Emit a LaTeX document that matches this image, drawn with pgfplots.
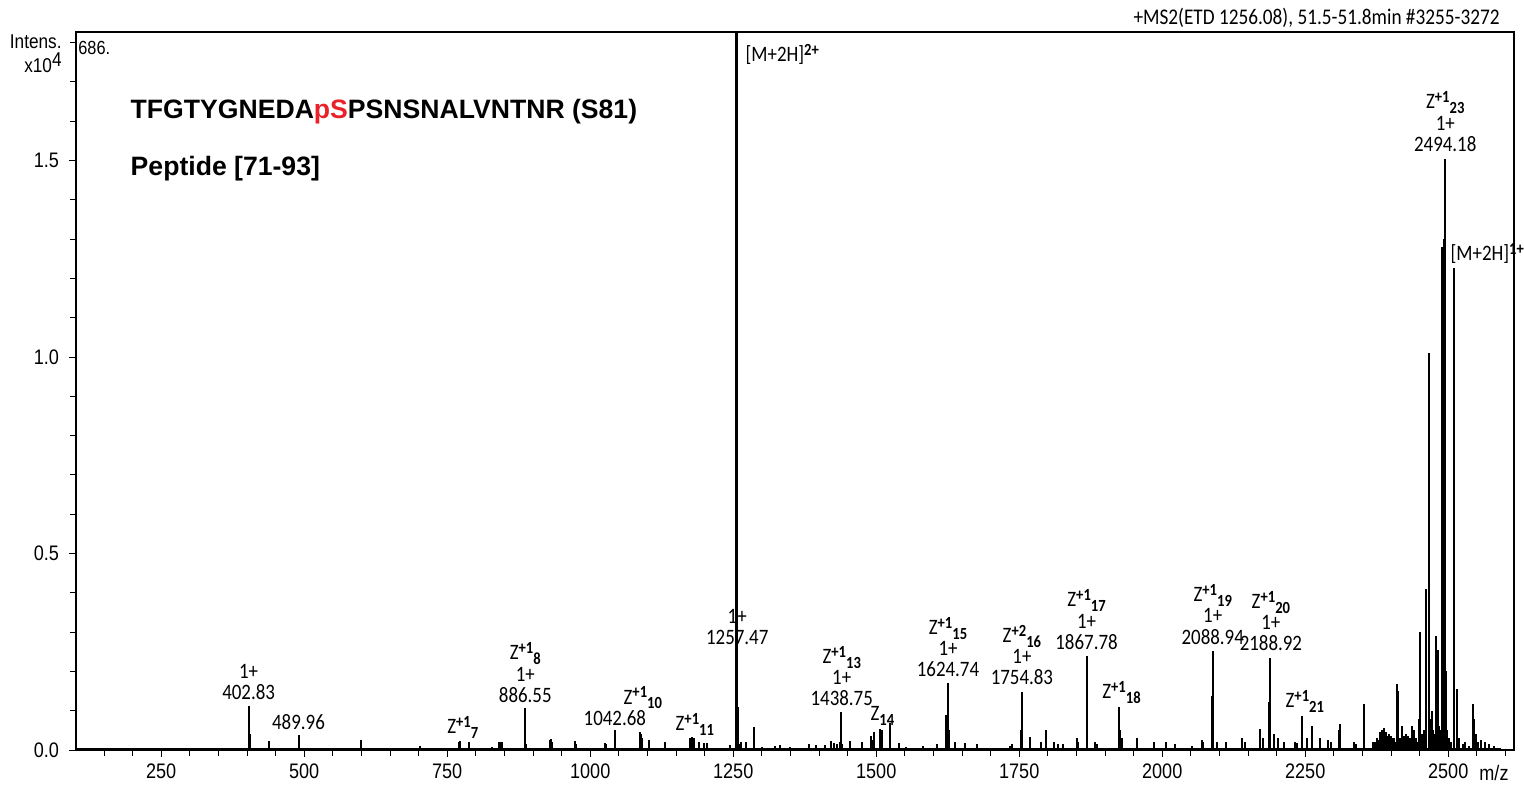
\documentclass[border=0pt]{standalone}
\usepackage{pgfplots}
\pgfplotsset{compat=1.18}
\usepackage{pgfplotstable}
\usepackage{fontspec}
\setmainfont{Liberation Sans}[FakeStretch=0.86]
\newfontfamily\calib{Carlito}[FakeStretch=0.86]
\newfontfamily\arialn{Liberation Sans}
\definecolor{pred}{RGB}{232,34,40}

% Z ion label: Z, charge as superscript, number as subscript
\newcommand{\zion}[2]{Z\raisebox{0.6ex}{\fontsize{8.5}{8}\selectfont\bfseries #1}\raisebox{-0.45ex}{\fontsize{8.5}{8}\selectfont\bfseries #2}}

\tikzset{
  lab/.style={font=\calib\fontsize{11}{10.6}\selectfont, inner sep=0pt, align=center, anchor=south},
  labw/.style={font=\calib\fontsize{11}{10.6}\selectfont, inner sep=0pt, anchor=base west},
}

% peak list: m/z, intensity (x10^4)
\pgfplotstableread{
mz int
402.8 0.113
404.5 0.04
406 0.015
437.6 0.022
490.5 0.039
599.6 0.026
701.6 0.01
771 0.02
773 0.022
788 0.021
828 0.008
841 0.02
844 0.021
846 0.02
886.5 0.108
888 0.015
929 0.025
931 0.027
933 0.02
973.8 0.024
975 0.015
1026 0.018
1028 0.015
1042.7 0.051
1087 0.045
1089 0.04
1091 0.03
1103 0.025
1130.6 0.02
1175 0.03
1178 0.032
1181 0.03
1191 0.02
1199 0.018
1205 0.018
1244.8 0.012
1254.2 0.25
1254.9 1.95
1255.5 2.0
1256.08 2.0
1256.7 1.95
1257.5 0.109
1260 0.015
1264 0.02
1273 0.02
1286.7 0.059
1300 0.008
1323.6 0.01
1332 0.012
1349.7 0.008
1381.6 0.015
1395 0.012
1410.8 0.012
1420.8 0.022
1426.6 0.018
1431 0.015
1436 0.02
1438.7 0.096
1441 0.015
1454 0.022
1474.9 0.02
1490.6 0.035
1494 0.025
1496.5 0.045
1507 0.054
1510.7 0.05
1523.5 0.068
1540 0.018
1552 0.008
1581 0.01
1607 0.015
1622 0.09
1624.7 0.17
1627 0.05
1638 0.02
1656 0.018
1676 0.015
1734 0.01
1737 0.015
1752.5 0.05
1754.8 0.147
1768 0.034
1788.5 0.02
1796 0.051
1810 0.02
1818.5 0.015
1827 0.015
1851 0.03
1853 0.02
1867.8 0.24
1869.2 0.157
1883 0.02
1886 0.015
1923.6 0.109
1926 0.05
1929 0.03
1955.7 0.03
1985 0.02
2007 0.02
2022.7 0.015
2052 0.01
2069 0.025
2072 0.02
2086.5 0.138
2088.9 0.252
2095.6 0.02
2112 0.02
2139 0.03
2145 0.02
2171 0.054
2177 0.03
2187 0.122
2188.9 0.235
2194.6 0.04
2203 0.03
2213 0.02
2232.5 0.02
2236 0.018
2245 0.086
2253 0.03
2262 0.06
2276.6 0.03
2290 0.025
2295 0.02
2309 0.05
2311 0.066
2334.5 0.02
2338 0.015
2352 0.075
2353.5 0.118
2368 0.02
2372 0.02
2375 0.03
2378 0.025
2380 0.045
2382 0.035
2384 0.05
2386 0.04
2388 0.055
2390 0.04
2392 0.045
2394 0.035
2396 0.04
2398 0.03
2400 0.035
2402 0.03
2404 0.025
2406 0.03
2408 0.02
2411 0.167
2412.5 0.15
2416 0.03
2419 0.06
2423 0.035
2426 0.04
2430 0.035
2434 0.03
2437 0.06
2440 0.05
2443 0.03
2446 0.02
2449.5 0.08
2451 0.30
2455 0.04
2458 0.05
2462 0.41
2465.5 1.01
2468 0.06
2470 0.08
2472 0.10
2474 0.05
2476 0.04
2478 0.29
2481.5 0.255
2484 0.06
2486 0.05
2489 1.28
2490.5 1.28
2492 1.2
2493 1.3
2494.2 1.505
2496 0.2
2498 0.05
2502 0.03
2505 0.02
2509.4 1.227
2515 0.155
2518 0.03
2525 0.015
2530 0.02
2537 0.01
2543.5 0.117
2545.5 0.08
2548 0.04
2552 0.02
2558 0.025
2565 0.02
2572 0.015
2580 0.01
}\spec

\begin{document}
\begin{tikzpicture}
\begin{axis}[
    scale only axis,
    width=719pt, height=359pt,
    xmin=101, xmax=2615,
    ymin=0, ymax=1.827,
    axis line style={line width=0.6pt},
    tick align=outside,
    tick style={black, line width=0.5pt},
    major tick length=3.5pt,
    minor tick length=3pt,
    xtick={250,500,...,2500},
    minor xtick={150,200,...,2600},
    ytick={0,0.5,1.0,1.5},
    minor ytick={0.1,0.2,0.3,0.4,0.6,0.7,0.8,0.9,1.1,1.2,1.3,1.4,1.6,1.7,1.8},
    xtick pos=bottom, ytick pos=left,
    yticklabel style={/pgf/number format/fixed, /pgf/number format/fixed zerofill, /pgf/number format/precision=1, xshift=-1.5pt},
    xticklabel style={/pgf/number format/set thousands separator={}},
    /pgf/number format/assume math mode=true,
    ticklabel style={font=\fontsize{10.5}{12}\selectfont},
    clip mode=individual,
]
\addplot[black, line width=1.2pt] coordinates {(101,0.002) (2592,0.002)};
\addplot[ycomb, black, line width=1pt, mark=none] table[x=mz, y=int] {\spec};

% axis decorations
\node[anchor=base east, inner sep=0pt, font=\fontsize{10}{12}\selectfont] at (axis description cs:0,1) [xshift=-7pt, yshift=-8pt] {Intens.};
\node[anchor=base east, inner sep=0pt, font=\fontsize{10}{12}\selectfont] at (axis description cs:0,1) [xshift=-7pt, yshift=-20pt] {x10\raisebox{0.5ex}{4}};
\node[anchor=north west, inner sep=0pt, font=\fontsize{9.5}{10}\selectfont] at (axis description cs:0,1) [xshift=1pt, yshift=-4.5pt] {686.};
\node[anchor=base east, inner sep=0pt, font=\calib\fontsize{11.2}{12}\selectfont] at (axis description cs:1,1) [xshift=-7pt, yshift=3.5pt] {+MS2(ETD 1256.08), 51.5-51.8min \#3255-3272};
\node[anchor=base, inner sep=0pt, font=\fontsize{10.5}{12}\selectfont] at (axis cs:2580,0) [yshift=-15.3pt] {m/z};

% titles
\node[anchor=base west, inner sep=0pt, font=\arialn\bfseries\fontsize{13.3}{15}\selectfont] at (axis cs:196,1.607) {TFGTYGNEDA\textcolor{pred}{pS}PSNSNALVNTNR (S81)};
\node[anchor=base west, inner sep=0pt, font=\arialn\bfseries\fontsize{13.3}{15}\selectfont] at (axis cs:196,1.463) {Peptide [71-93]};

% peak annotations
\node[lab] at (axis cs:402.83,0.126) {1+\\402.83};
\node[lab] at (axis cs:490,0.051) {489.96};
\node[labw] at (axis cs:749.5,0.041) {\zion{+1}{7}};
\node[lab] at (axis cs:886.5,0.12) {\zion{+1}{8}\\1+\\886.55};
\node[lab] at (axis cs:1043,0.060) {1042.68};
\node[labw] at (axis cs:1057.7,0.117) {\zion{+1}{10}};
\node[labw] at (axis cs:1148.6,0.05) {\zion{+1}{11}};
\node[lab] at (axis cs:1257,0.266) {1+\\1257.47};
\node[lab] at (axis cs:1439.7,0.111) {\zion{+1}{13}\\1+\\1438.75};
\node[labw] at (axis cs:1489.5,0.075) {\zion{}{14}};
\node[lab] at (axis cs:1625.5,0.185) {\zion{+1}{15}\\1+\\1624.74};
\node[lab] at (axis cs:1754.7,0.164) {\zion{+2}{16}\\1+\\1754.83};
\node[lab] at (axis cs:1867.7,0.255) {\zion{+1}{17}\\1+\\1867.78};
\node[labw] at (axis cs:1894.6,0.130) {\zion{+1}{18}};
\node[lab] at (axis cs:2088.3,0.268) {\zion{+1}{19}\\1+\\2088.94};
\node[lab] at (axis cs:2190,0.251) {\zion{+1}{20}\\1+\\2188.92};
\node[labw] at (axis cs:2215,0.107) {\zion{+1}{21}};
\node[lab] at (axis cs:2494.8,1.522) {\zion{+1}{23}\\1+\\2494.18};
\node[labw] at (axis cs:2503.5,1.246) {[M+2H]\raisebox{0.6ex}{\fontsize{8.5}{8}\selectfont\bfseries 1+}};
\node[labw] at (axis cs:1271,1.751) {[M+2H]\raisebox{0.6ex}{\fontsize{8.5}{8}\selectfont\bfseries 2+}};
\end{axis}
\pgfresetboundingbox
\path[use as bounding box] (-38pt,-19.5pt) rectangle (724pt,375pt);
\end{tikzpicture}
\end{document}
